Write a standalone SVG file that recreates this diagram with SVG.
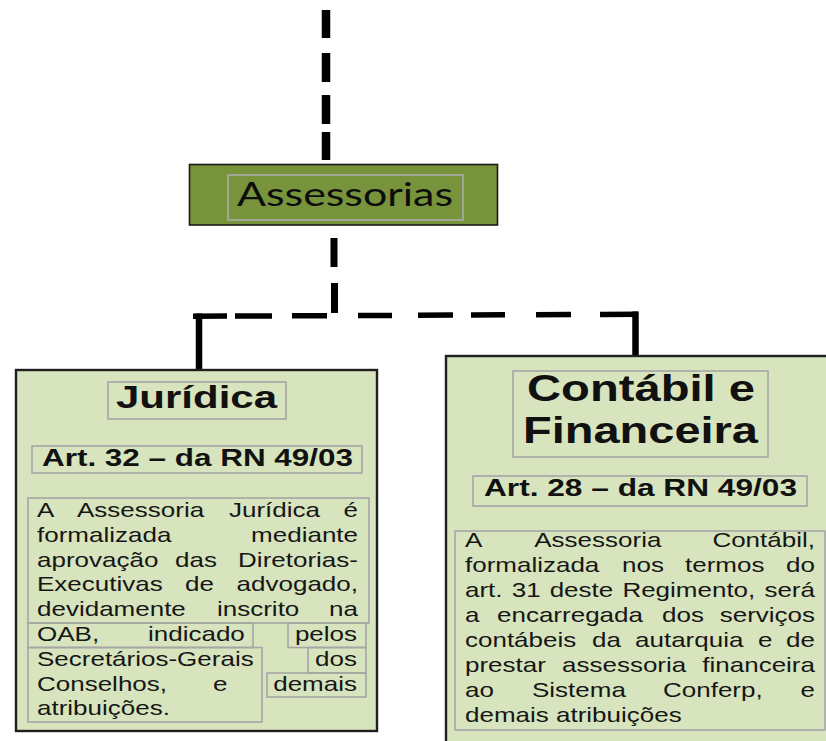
<svg xmlns="http://www.w3.org/2000/svg" width="826" height="741" viewBox="0 0 826 741">
<style>
.bg{fill:#ffffff}
.top{fill:#77933C;stroke:#1a1a1a;stroke-width:1.6}
.node{fill:#D7E4BD;stroke:#1f1f1f;stroke-width:2.4}
.tbox{fill:none;stroke:#A6A6A6;stroke-width:1.6}
.tboxg{fill:none;stroke:#ABABAB;stroke-width:1.6}
.conn{fill:none;stroke:#000;stroke-linecap:butt}
.title{font-family:"Liberation Sans",Arial,sans-serif;font-weight:bold;fill:#111}
.body{font-family:"Liberation Sans",Arial,sans-serif;font-size:20px;fill:#161616}
.ass{font-family:Lato,"Open Sans",sans-serif;font-size:32px;fill:#0d0d0d}
</style>
<rect class="bg" x="0" y="0" width="826" height="741"/>

<g id="connectors">
  <path class="conn" stroke-width="8.5" d="M326,10 V38 M326,53 V82 M326,95 V124 M326,132 V160"/>
  <path class="conn" stroke-width="7" d="M334,238 V267 M334.5,283 V313"/>
  <path class="conn" stroke-width="5.5" d="M193,316.3 L227,316.1 M235,316.1 L272,315.9 M292,315.8 L327,315.7 M358,315.5 L392,315.4 M418,315.2 L453,315.1 M471,315 L505,314.8 M536,314.7 L571,314.5 M600,314.4 L638,314.2"/>
  <path class="conn" stroke-width="6.5" d="M199,313.5 V369"/>
  <path class="conn" stroke-width="6.5" d="M635.5,311.5 V356"/>
</g>

<g id="assessorias">
  <rect class="top" x="189.5" y="164.5" width="308" height="60.5"/>
  <rect class="tboxg" x="228" y="175" width="235" height="45"/>
  <text class="ass" x="237" y="206" textLength="216" lengthAdjust="spacingAndGlyphs">Assessorias</text>
</g>

<g id="juridica">
  <rect class="node" x="16" y="370" width="361" height="361"/>
  <rect class="tbox" x="108" y="382" width="178" height="37"/>
  <text class="title" x="116" y="408" font-size="32" textLength="161" lengthAdjust="spacingAndGlyphs">Jurídica</text>
  <rect class="tbox" x="32" y="446" width="330" height="27"/>
  <text class="title" x="42" y="466" font-size="24" textLength="311" lengthAdjust="spacingAndGlyphs">Art. 32 – da RN 49/03</text>
  <rect class="tbox" x="28" y="498" width="341" height="125"/>
  <rect class="tbox" x="28" y="623" width="225" height="24.5"/>
  <rect class="tbox" x="288" y="623" width="78" height="24.5"/>
  <rect class="tbox" x="28" y="647.5" width="234" height="74.5"/>
  <rect class="tbox" x="308" y="647.5" width="58" height="25.5"/>
  <rect class="tbox" x="267" y="673" width="99" height="24"/>
  <g class="body" transform="scale(1.3 1)">
    <text y="517"><tspan x="28.46">A</tspan><tspan x="59.23">Assessoria</tspan><tspan x="176.15">Jurídica</tspan><tspan x="264.23">é</tspan></text>
    <text y="541.8"><tspan x="28.46">formalizada</tspan><tspan x="193.15">mediante</tspan></text>
    <text y="566.6"><tspan x="28.46">aprovação</tspan><tspan x="134.6">das</tspan><tspan x="183.15">Diretorias-</tspan></text>
    <text y="591.4"><tspan x="28.46">Executivas</tspan><tspan x="142.31">de</tspan><tspan x="182">advogado,</tspan></text>
    <text y="616.2"><tspan x="28.46">devidamente</tspan><tspan x="166.92">inscrito</tspan><tspan x="253.15">na</tspan></text>
    <text y="641"><tspan x="28.46">OAB,</tspan><tspan x="113.85">indicado</tspan><tspan x="226.85">pelos</tspan></text>
    <text y="665.8"><tspan x="28.46">Secretários-Gerais</tspan><tspan x="242.38">dos</tspan></text>
    <text y="690.6"><tspan x="28.46">Conselhos,</tspan><tspan x="163.85">e</tspan><tspan x="210.15">demais</tspan></text>
    <text y="715.4"><tspan x="28.46">atribuições.</tspan></text>
  </g>
</g>

<g id="contabil">
  <rect class="node" x="446" y="356" width="400" height="400"/>
  <rect class="tbox" x="513" y="371" width="255" height="86"/>
  <text class="title" x="527" y="401" font-size="36" textLength="228" lengthAdjust="spacingAndGlyphs">Contábil e</text>
  <text class="title" x="523" y="443" font-size="36" textLength="235" lengthAdjust="spacingAndGlyphs">Financeira</text>
  <rect class="tbox" x="473" y="476" width="334" height="30"/>
  <text class="title" x="484" y="496" font-size="24" textLength="313" lengthAdjust="spacingAndGlyphs">Art. 28 – da RN 49/03</text>
  <rect class="tbox" x="455" y="531" width="370" height="199"/>
  <g class="body" transform="scale(1.3 1)">
    <text y="547.5"><tspan x="357.69">A</tspan><tspan x="411">Assessoria</tspan><tspan x="548">Contábil,</tspan></text>
    <text y="572.4"><tspan x="357.69">formalizada</tspan><tspan x="478.46">nos</tspan><tspan x="526.92">termos</tspan><tspan x="604.69">do</tspan></text>
    <text y="597.3"><tspan x="357.69">art.</tspan><tspan x="393.6">31</tspan><tspan x="422.8">deste</tspan><tspan x="478.77">Regimento,</tspan><tspan x="588">será</tspan></text>
    <text y="622.2"><tspan x="357.69">a</tspan><tspan x="382.31">encarregada</tspan><tspan x="509.23">dos</tspan><tspan x="553.6">serviços</tspan></text>
    <text y="647.1"><tspan x="357.69">contábeis</tspan><tspan x="455.38">da</tspan><tspan x="488.46">autarquia</tspan><tspan x="583.08">e</tspan><tspan x="604.69">de</tspan></text>
    <text y="672"><tspan x="357.69">prestar</tspan><tspan x="432.31">assessoria</tspan><tspan x="540.23">financeira</tspan></text>
    <text y="696.9"><tspan x="357.69">ao</tspan><tspan x="409.23">Sistema</tspan><tspan x="510">Conferp,</tspan><tspan x="615.77">e</tspan></text>
    <text y="721.8"><tspan x="357.69">demais atribuições</tspan></text>
  </g>
</g>
</svg>
